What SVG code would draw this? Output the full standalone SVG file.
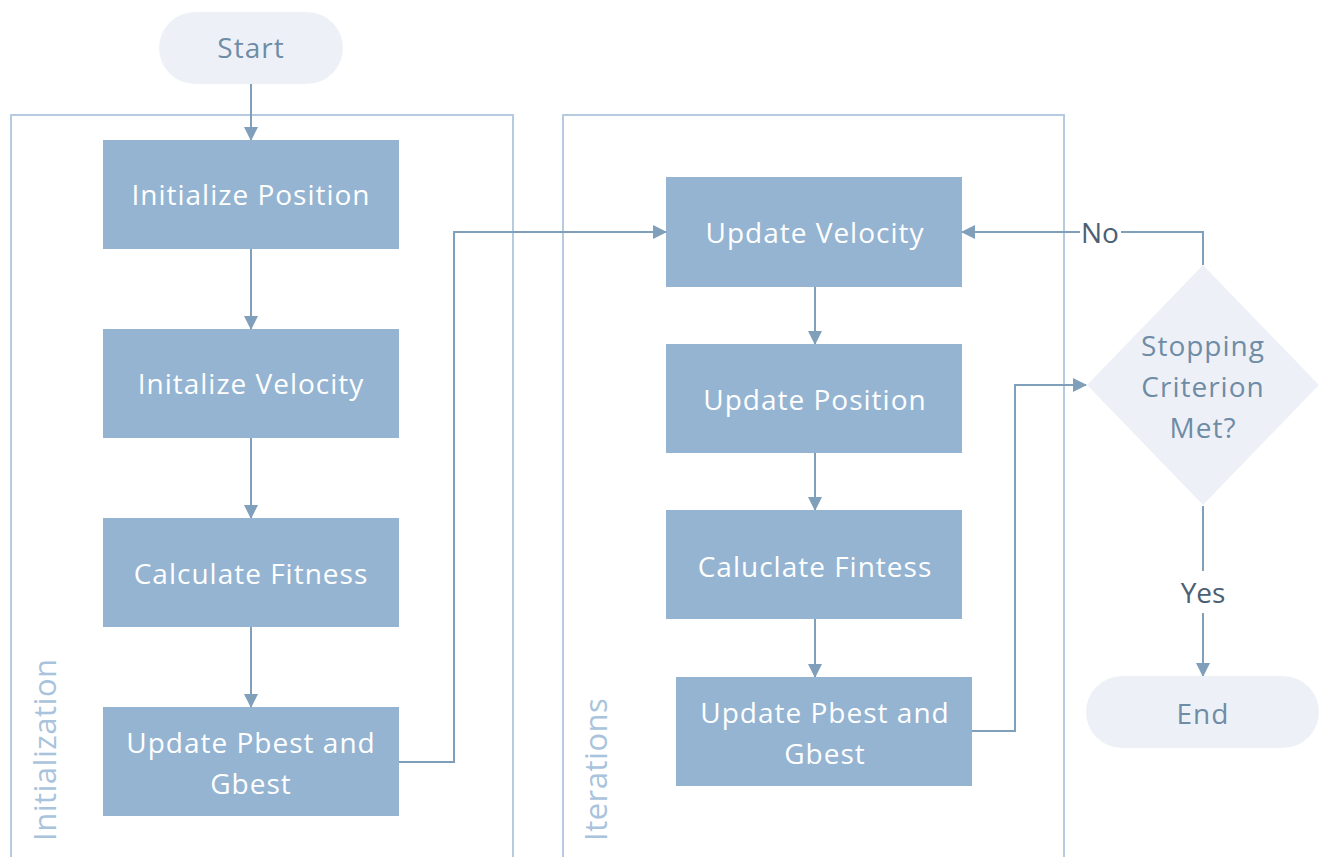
<svg xmlns="http://www.w3.org/2000/svg" width="1326" height="857" viewBox="0 0 1326 857">
<defs>
<marker id="ah" markerWidth="14" markerHeight="14" refX="13" refY="7" orient="auto" markerUnits="userSpaceOnUse" viewBox="0 0 14 14">
<path d="M0,0 L14,7 L0,14 z" fill="#7f9fbb"/>
</marker>
<style>
.box{fill:#94b4d2}
.pill{fill:#edf1f7}
.bt{font-family:"Open Sans","Noto Sans",sans-serif;font-size:28px;fill:#ffffff;text-anchor:middle;letter-spacing:1px}
.pt{font-family:"Open Sans","Noto Sans",sans-serif;font-size:28px;fill:#6f8ca6;text-anchor:middle;letter-spacing:1px}
.lt{font-family:"Open Sans","Noto Sans",sans-serif;font-size:28px;fill:#4b6075;text-anchor:middle}
.ct{font-family:"Open Sans","Noto Sans",sans-serif;font-size:31px;fill:#a9c3dc;letter-spacing:0.5px}
.cont{fill:none;stroke:#b6cbe0;stroke-width:2}
.conn{fill:none;stroke:#7f9fbb;stroke-width:2;marker-end:url(#ah)}
.connp{fill:none;stroke:#7f9fbb;stroke-width:2}
</style>
</defs>
<rect width="1326" height="857" fill="#ffffff"/>
<g id="container-initialization">
<path class="cont" d="M11,857 V115 H513 V857"/>
<text class="ct" transform="translate(56,841) rotate(-90)">Initialization</text>
</g>
<g id="container-iterations">
<path class="cont" d="M563,857 V115 H1064 V857"/>
<text class="ct" transform="translate(607,841) rotate(-90)">Iterations</text>
</g>
<g id="connectors">
<path class="conn" d="M251,84 V140"/>
<path class="conn" d="M251,249 V329"/>
<path class="conn" d="M251,438 V518"/>
<path class="conn" d="M251,627 V707"/>
<path class="conn" d="M399,762 H454 V232 H666"/>
<path class="conn" d="M815,287 V344"/>
<path class="conn" d="M815,453 V510"/>
<path class="conn" d="M815,619 V677"/>
<path class="conn" d="M972,731 H1015 V385 H1086"/>
<path class="connp" d="M1203,265 V232 H1121"/>
<path class="conn" d="M1080,232 H962"/>
<path class="connp" d="M1203,506 V571"/>
<path class="conn" d="M1203,613 V676"/>
<text class="lt" x="1100" y="243">No</text>
<text class="lt" x="1203" y="603">Yes</text>
</g>
<g id="start">
<rect class="pill" x="159" y="12" width="184" height="72" rx="36"/>
<text class="pt" x="251" y="58">Start</text>
</g>
<g id="init-position">
<rect class="box" x="103" y="140" width="296" height="109"/>
<text class="bt" x="251" y="205">Initialize Position</text>
</g>
<g id="init-velocity">
<rect class="box" x="103" y="329" width="296" height="109"/>
<text class="bt" x="251" y="394">Initalize Velocity</text>
</g>
<g id="calc-fitness">
<rect class="box" x="103" y="518" width="296" height="109"/>
<text class="bt" x="251" y="584">Calculate Fitness</text>
</g>
<g id="update-best-init">
<rect class="box" x="103" y="707" width="296" height="109"/>
<text class="bt" x="251" y="753">Update Pbest and</text>
<text class="bt" x="251" y="794">Gbest</text>
</g>
<g id="update-velocity">
<rect class="box" x="666" y="177" width="296" height="110"/>
<text class="bt" x="815" y="243">Update Velocity</text>
</g>
<g id="update-position">
<rect class="box" x="666" y="344" width="296" height="109"/>
<text class="bt" x="815" y="410">Update Position</text>
</g>
<g id="calc-fitness-iter">
<rect class="box" x="666" y="510" width="296" height="109"/>
<text class="bt" x="815" y="577">Caluclate Fintess</text>
</g>
<g id="update-best-iter">
<rect class="box" x="676" y="677" width="296" height="109"/>
<text class="bt" x="825" y="723">Update Pbest and</text>
<text class="bt" x="825" y="764">Gbest</text>
</g>
<g id="stopping">
<polygon class="pill" points="1203,265 1319,385 1203,505 1087,385"/>
<text class="pt" x="1203" y="356">Stopping</text>
<text class="pt" x="1203" y="397">Criterion</text>
<text class="pt" x="1203" y="438">Met?</text>
</g>
<g id="end">
<rect class="pill" x="1086" y="676" width="233" height="72" rx="36"/>
<text class="pt" x="1203" y="724">End</text>
</g>
</svg>
